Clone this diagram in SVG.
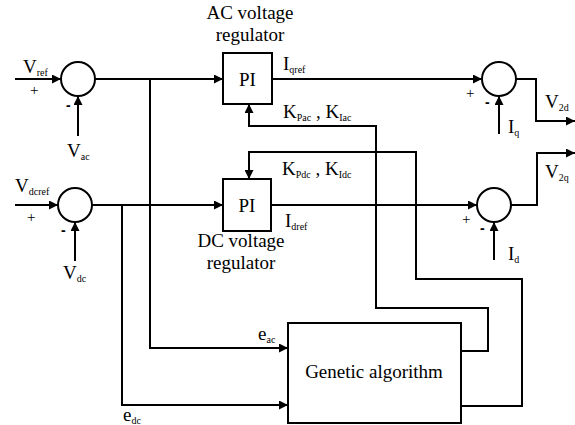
<svg xmlns="http://www.w3.org/2000/svg" width="575" height="425" viewBox="0 0 575 425">
<defs>
<style>
.ln{fill:none;stroke:#000;stroke-width:2;marker-end:url(#ah)}
.bx{fill:#fff;stroke:#000;stroke-width:2}
.t{font-family:'Liberation Serif','Times New Roman',serif;font-size:19px;fill:#000}
.s{font-size:10px}
.p{font-family:'Liberation Serif','Times New Roman',serif;font-size:15px;fill:#000}
.m{font-family:'Liberation Sans',Arial,sans-serif;font-size:14px;font-weight:bold;fill:#000}
</style>
<marker id="ah" viewBox="0 0 10 10" refX="10" refY="5" markerWidth="10" markerHeight="9" markerUnits="userSpaceOnUse" orient="auto">
<path d="M0,0 L10,5 L0,10 z" fill="#000"/>
</marker>
</defs>
<rect width="575" height="425" fill="#fff"/>
<g id="connectors">
<path class="ln" d="M15,79 H61"/>
<path class="ln" d="M78,136 V96"/>
<path class="ln" d="M95,79 H223"/>
<path class="ln" d="M150,79 V348 H288"/>
<path class="ln" d="M15,205 H58"/>
<path class="ln" d="M75,261 V222"/>
<path class="ln" d="M92,205 H223"/>
<path class="ln" d="M122,205 V405 H288"/>
<path class="ln" d="M272,79 H482"/>
<path class="ln" d="M499,134 V96"/>
<path class="ln" d="M516,79 H536 V121 H575"/>
<path class="ln" d="M271,205 H477"/>
<path class="ln" d="M494,260 V222"/>
<path class="ln" d="M511,205 H537 V153 H575"/>
<path class="ln" d="M461,351 H488 V308 H376 V126 H249 V104"/>
<path class="ln" d="M461,406 H522 V279 H416 V152 H249 V179"/>
</g>
<g id="sum_ac">
<circle class="bx" cx="78" cy="79" r="17"/>
<text class="t" x="23" y="73">V<tspan class="s" dy="3">ref</tspan></text>
<text class="p" x="30" y="95">+</text>
<text class="m" x="66" y="110">-</text>
<text class="t" x="67" y="157">V<tspan class="s" dy="3">ac</tspan></text>
</g>
<g id="sum_dc">
<circle class="bx" cx="75" cy="205" r="17"/>
<text class="t" x="15" y="192">V<tspan class="s" dy="3">dcref</tspan></text>
<text class="p" x="27" y="222">+</text>
<text class="m" x="61" y="235">-</text>
<text class="t" x="63" y="279">V<tspan class="s" dy="3">dc</tspan></text>
</g>
<g id="pi_ac">
<rect class="bx" x="223" y="53" width="49" height="51"/>
<text class="t" x="247.5" y="86" text-anchor="middle" font-size="20">PI</text>
<text class="t" x="250" y="19" text-anchor="middle">AC voltage</text>
<text class="t" x="250" y="41" text-anchor="middle">regulator</text>
<text class="t" x="283" y="70">I<tspan class="s" dy="3">qref</tspan></text>
<text class="t" x="283" y="118">K<tspan class="s" dy="3">Pac</tspan><tspan dy="-3"> , K</tspan><tspan class="s" dy="3">Iac</tspan></text>
</g>
<g id="pi_dc">
<rect class="bx" x="223" y="179" width="48" height="52"/>
<text class="t" x="247" y="212" text-anchor="middle" font-size="20">PI</text>
<text class="t" x="241" y="247" text-anchor="middle">DC voltage</text>
<text class="t" x="241" y="269" text-anchor="middle">regulator</text>
<text class="t" x="285" y="227">I<tspan class="s" dy="3">dref</tspan></text>
<text class="t" x="282" y="175">K<tspan class="s" dy="3">Pdc</tspan><tspan dy="-3"> , K</tspan><tspan class="s" dy="3">Idc</tspan></text>
</g>
<g id="sum_q">
<circle class="bx" cx="499" cy="79" r="17"/>
<text class="p" x="466" y="98">+</text>
<text class="m" x="485" y="107">-</text>
<text class="t" x="508" y="133">I<tspan class="s" dy="3">q</tspan></text>
<text class="t" x="545" y="108">V<tspan class="s" dy="3">2d</tspan></text>
</g>
<g id="sum_d">
<circle class="bx" cx="494" cy="205" r="17"/>
<text class="p" x="462" y="224">+</text>
<text class="m" x="480" y="233">-</text>
<text class="t" x="508" y="260">I<tspan class="s" dy="3">d</tspan></text>
<text class="t" x="545" y="178">V<tspan class="s" dy="3">2q</tspan></text>
</g>
<g id="ga">
<rect class="bx" x="288" y="323" width="173" height="100"/>
<text class="t" x="374" y="378" text-anchor="middle">Genetic algorithm</text>
<text class="t" x="258" y="340">e<tspan class="s" dy="3">ac</tspan></text>
<text class="t" x="123" y="421">e<tspan class="s" dy="3">dc</tspan></text>
</g>
</svg>
